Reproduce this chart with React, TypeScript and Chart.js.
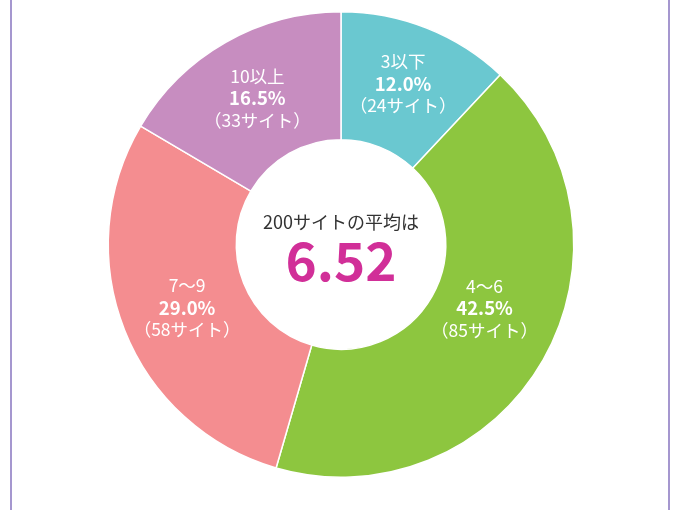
import React, { useEffect, useRef } from "react";
import { Chart, registerables } from "chart.js";

Chart.register(...registerables);

const categories = ["3以下", "4〜6", "7〜9", "10以上"];
const percents = [12.0, 42.5, 29.0, 16.5];
const counts = [24, 85, 58, 33];
const colors = ["#6ac8d0", "#8dc63f", "#f48d90", "#c78dc0"];
const centerTitle = "200サイトの平均は";
const centerValue = "6.52";

const FONT = '"Noto Sans CJK JP", "Noto Sans", sans-serif';

const labelPlugin = {
  id: "segLabels",
  afterDatasetsDraw(chart: any, _args: any, opts: any) {
    const { ctx } = chart;
    const meta = chart.getDatasetMeta(0);
    const shifts = (opts && opts.shifts) || [];
    ctx.save();
    ctx.fillStyle = "#ffffff";
    ctx.textAlign = "center";
    ctx.textBaseline = "middle";
    meta.data.forEach((arc: any, i: number) => {
      const p = arc.getProps(["x", "y", "startAngle", "endAngle", "innerRadius", "outerRadius"], true);
      const mid = (p.startAngle + p.endAngle) / 2;
      const r = (p.innerRadius + p.outerRadius) / 2;
      const s = shifts[i] || [0, 0];
      const cx = p.x + Math.cos(mid) * r + s[0];
      const cy = p.y + Math.sin(mid) * r + s[1];
      ctx.font = `400 17.5px ${FONT}`;
      ctx.fillText(categories[i], cx, cy - 22);
      ctx.font = `700 18.5px ${FONT}`;
      ctx.fillText(percents[i].toFixed(1) + "%", cx, cy);
      ctx.font = `400 17.5px ${FONT}`;
      ctx.fillText("（" + counts[i] + "サイト）", cx, cy + 22);
    });
    const c = meta.data[0];
    ctx.fillStyle = "#333333";
    ctx.font = `400 18px ${FONT}`;
    ctx.fillText(centerTitle, c.x, c.y - 22);
    ctx.fillStyle = "#d12f98";
    ctx.font = `700 53px ${FONT}`;
    ctx.fillText(centerValue, c.x, c.y + 16);
    ctx.restore();
  },
};

export default function App() {
  const ref = useRef<HTMLCanvasElement>(null);
  useEffect(() => {
    if (!ref.current) return;
    const chart = new Chart(ref.current, {
      type: "doughnut",
      data: {
        labels: categories,
        datasets: [
          {
            data: percents,
            backgroundColor: colors,
            borderColor: "#ffffff",
            borderWidth: 1.5,
          },
        ],
      },
      options: {
        animation: false,
        responsive: false,
        cutout: "45%",
        layout: { padding: { left: 107, right: 100, top: 11, bottom: 32 } },
        plugins: {
          legend: { display: false },
          tooltip: { enabled: false },
          segLabels: { shifts: [[0, -4], [-3, -20], [3, 1], [0, 0]] },
        } as any,
      },
      plugins: [labelPlugin],
    });
    return () => chart.destroy();
  }, []);

  return (
    <div style={{ position: "absolute", left: 0, top: 0, width: 675, height: 510, background: "#fff", overflow: "hidden" }}>
      <div
        style={{
          position: "absolute",
          left: 10,
          top: 0,
          width: 656,
          height: 510,
          borderLeft: "2px solid #a597cf",
          borderRight: "2px solid #a597cf",
        }}
      />
      <canvas ref={ref} width={675} height={510} style={{ position: "absolute", left: 0, top: 0 }} />
    </div>
  );
}
